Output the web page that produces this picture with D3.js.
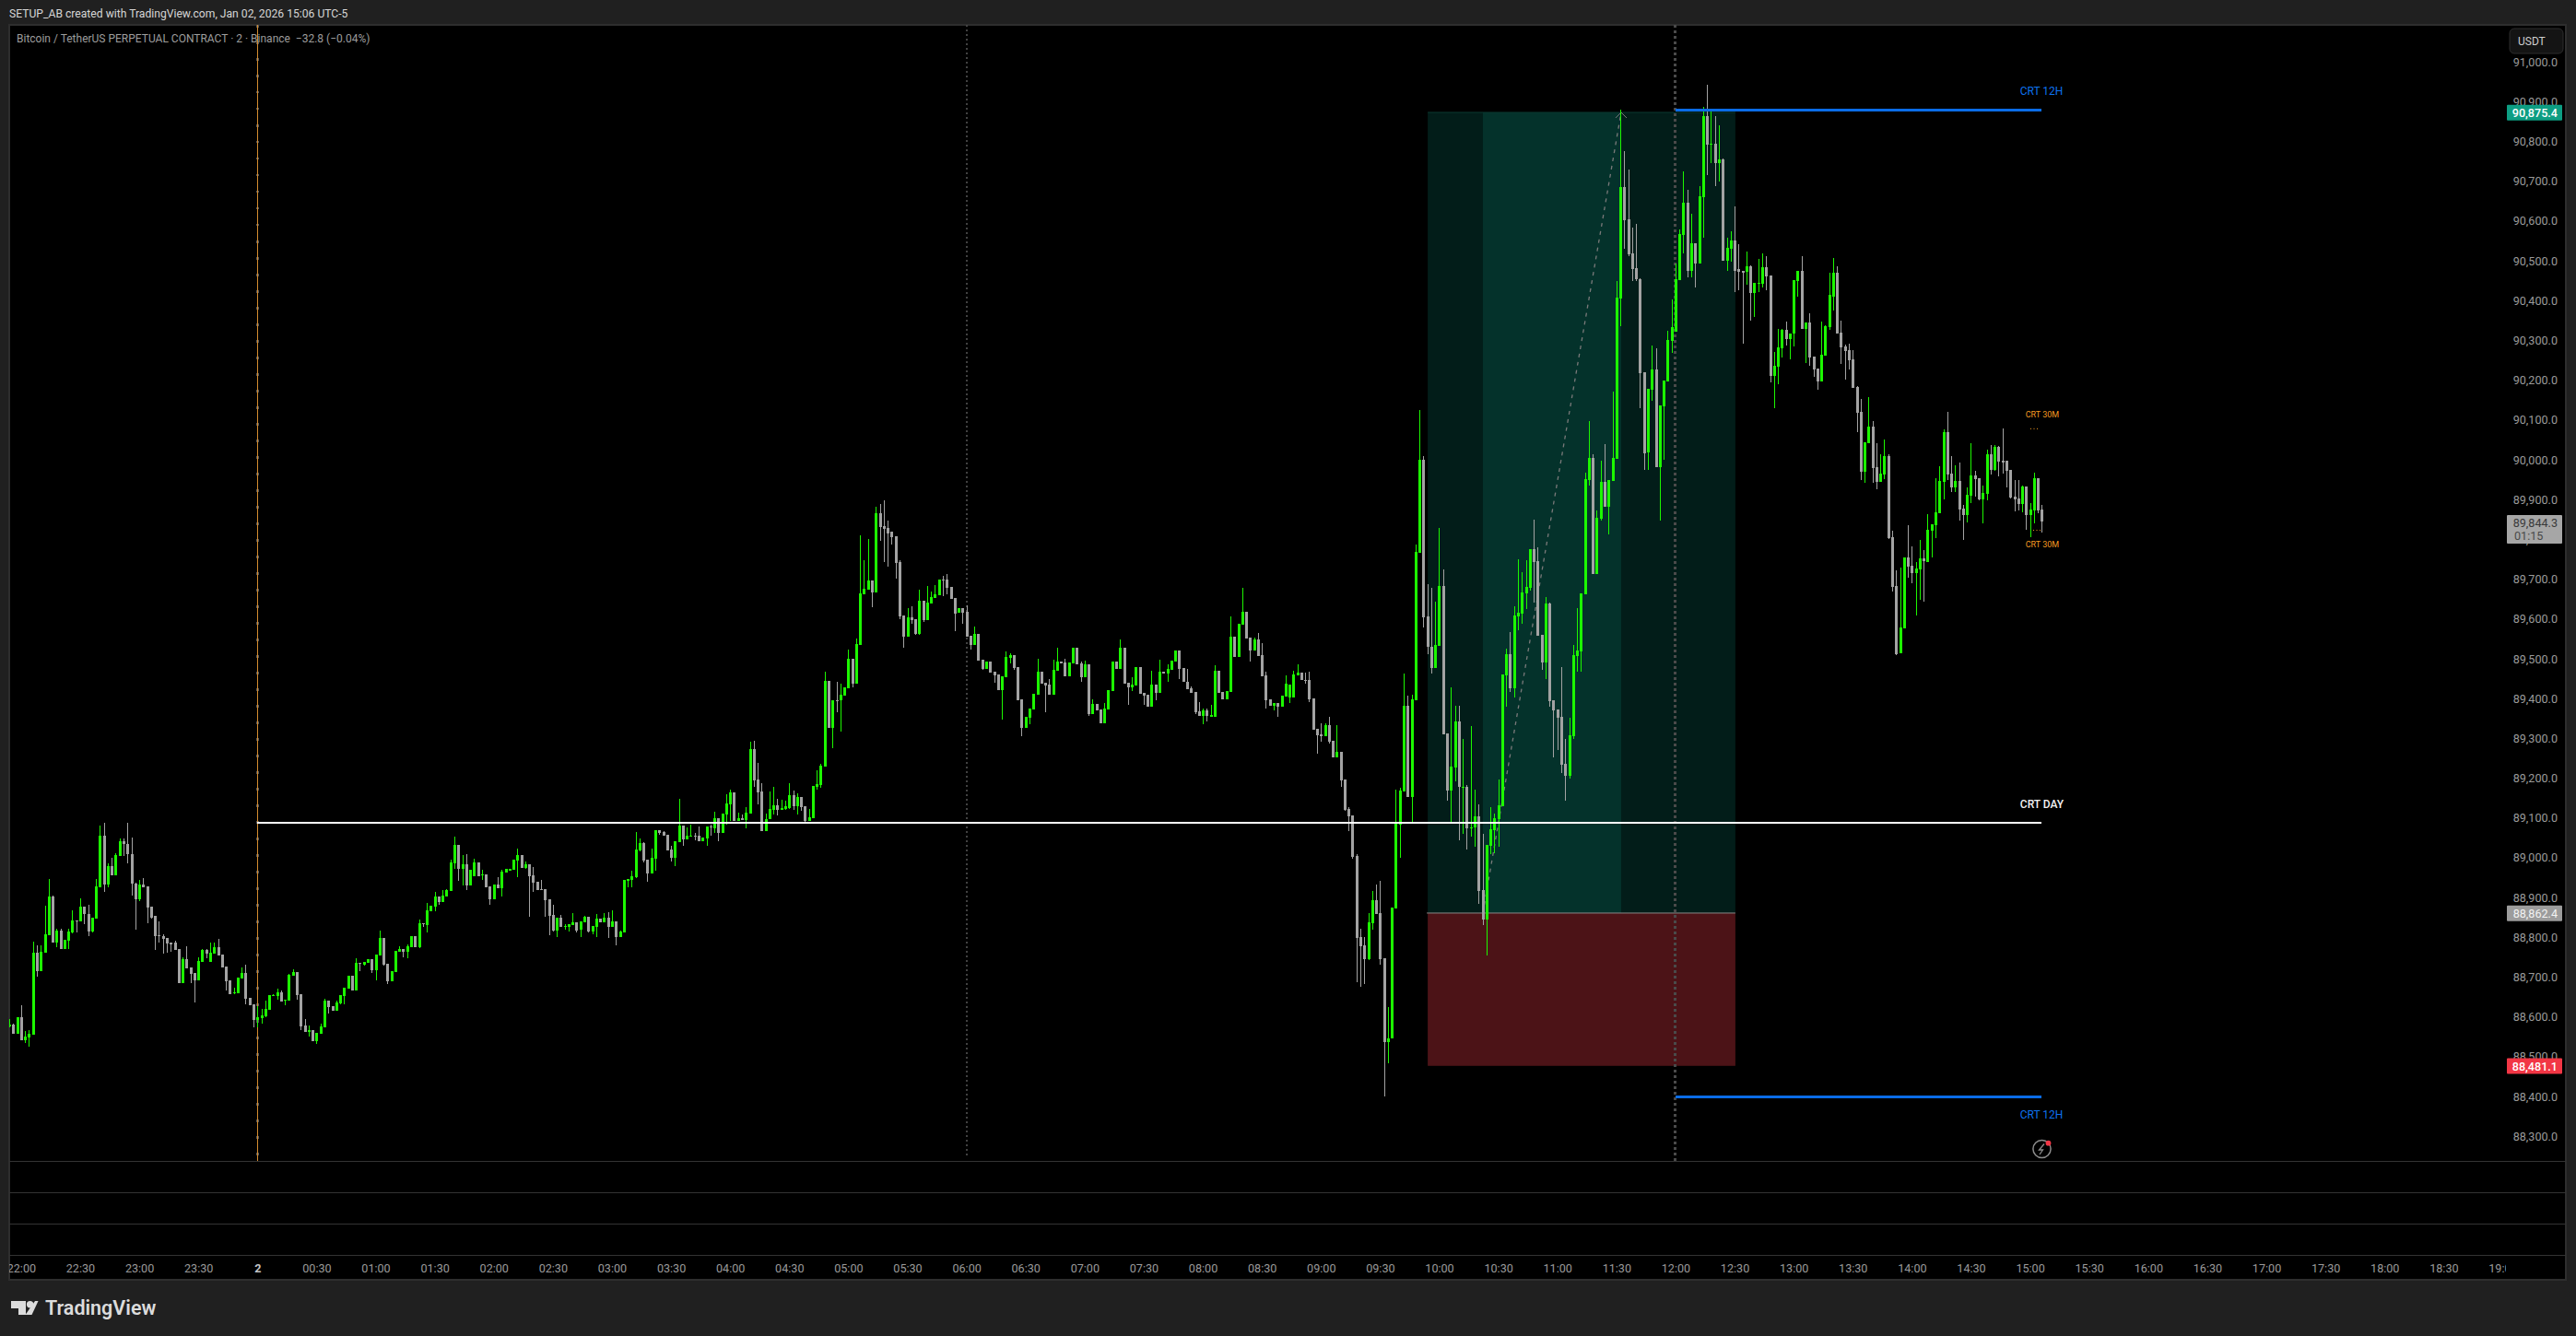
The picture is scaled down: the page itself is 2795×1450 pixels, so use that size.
<!DOCTYPE html>
<html><head><meta charset="utf-8"><title>BTCUSDT.P 2m</title>
<script src="https://cdnjs.cloudflare.com/ajax/libs/d3/7.9.0/d3.min.js"></script>
<style>html,body{margin:0;padding:0;background:#202020;overflow:hidden}svg{display:block}text{font-family:Roboto,"Liberation Sans",sans-serif}</style>
</head><body><svg id="c" width="2795" height="1450"></svg>
<script>
const firstBar = -63; // bars counted from midnight, two minutes each
const opens = [
88575,88580,88556,88598,88540,88547,88554,88760,88714,88760,
88804,88901,88786,88816,88770,88791,88811,88841,88839,88876,
88858,88814,88846,88925,89054,88932,88978,88955,89003,89040,
89033,89008,88934,88894,88932,88927,88876,88853,88804,88802,
88797,88785,88785,88770,88684,88744,88723,88709,88691,88737,
88767,88737,88758,88774,88756,88726,88691,88658,88658,88695,
88709,88647,88631,88591,88596,88600,88617,88652,88652,88661,
88640,88640,88702,88712,88656,88577,88561,88566,88538,88556,
88573,88640,88626,88614,88633,88651,88670,88702,88665,88735,
88730,88735,88744,88716,88753,88797,88733,88689,88712,88763,
88770,88763,88774,88802,88774,88834,88830,88865,88876,88901,
88888,88901,88915,88985,89031,88971,88983,88929,88952,88987,
88955,88957,88927,88895,88932,88922,88962,88966,88969,88992,
89006,88973,88982,88955,88938,88920,88920,88894,88855,88816,
88848,88825,88825,88830,88837,88818,88837,88851,88814,88825,
88846,88837,88848,88825,88839,88800,88811,88941,88943,88950,
89017,89036,88994,88959,88997,89068,89063,89057,89020,88999,
89038,89080,89045,89052,89054,89054,89040,89047,89077,89073,
89098,89061,89108,89133,89163,89091,89098,89094,89110,89272,
89195,89165,89066,89096,89119,89131,89119,89122,89124,89156,
89128,89152,89128,89091,89098,89177,89182,89229,89443,89325,
89395,89394,89406,89425,89499,89436,89534,89661,89673,89696,
89665,89865,89832,89827,89818,89807,89742,89608,89555,89603,
89598,89561,89645,89596,89638,89652,89659,89698,89698,89679,
89652,89615,89626,89617,89557,89534,89561,89496,89473,89492,
89466,89459,89420,89453,89501,89508,89478,89397,89325,89351,
89372,89409,89466,89438,89434,89409,89469,89492,89490,89455,
89487,89527,89487,89453,89485,89360,89385,89371,89337,89372,
89418,89492,89473,89527,89438,89427,89432,89478,89413,89408,
89378,89434,89413,89466,89462,89471,89492,89520,89476,89441,
89425,89415,89367,89355,89369,89353,89353,89469,89415,89397,
89415,89555,89504,89585,89617,89552,89520,89547,89508,89457,
89397,89381,89388,89378,89404,89402,89402,89458,89464,89446,
89446,89399,89323,89309,89304,89332,89293,89251,89265,89196,
89121,89105,89004,88800,88779,88744,88834,88892,88859,88746,
88535,88544,88871,89083,89166,89380,89152,89395,89766,89999,
89605,89530,89476,89531,89682,89312,89168,89226,89341,89175,
89177,89074,89075,89103,88917,88843,89029,89068,89096,89128,
89458,89510,89425,89605,89612,89664,89678,89774,89744,89559,
89490,89638,89395,89371,89352,89235,89205,89304,89506,89518,
89660,89948,90003,89712,89850,89944,89881,89946,90001,90404,
90684,90603,90518,90481,90453,90219,90017,90175,90226,89981,
90133,90196,90298,90321,90451,90564,90645,90474,90543,90492,
90659,90863,90791,90793,90745,90754,90499,90530,90550,90478,
90473,90471,90485,90418,90441,90441,90483,90462,90210,90233,
90279,90326,90302,90316,90448,90474,90328,90344,90258,90228,
90196,90261,90332,90409,90469,90319,90284,90275,90251,90182,
90119,89969,90041,90082,89981,89943,89962,90008,89805,89682,
89513,89575,89754,89733,89714,89723,89751,89742,89821,89835,
89865,89943,90068,89964,89930,89946,89876,89860,89909,89960,
89953,89899,89913,90013,89974,90031,89996,89996,89973,89906,
89902,89888,89932,89860,89872,89953,89874];
const highs = [
88594,88581,88598,88628,88563,88565,88788,88779,88779,88878,
88945,88904,88820,88821,88793,88821,88866,88841,88897,88876,
88881,88848,88945,89080,89087,88984,88998,89010,89047,89047,
89087,89050,88936,88943,88947,88927,88876,88853,88839,88807,
88797,88785,88790,88770,88748,88777,88723,88709,88748,88770,
88770,88785,88785,88795,88756,88726,88691,88672,88698,88723,
88730,88647,88631,88626,88619,88640,88654,88655,88670,88665,
88642,88707,88719,88712,88656,88594,88577,88566,88559,88583,
88645,88640,88626,88640,88654,88672,88702,88702,88746,88735,
88737,88744,88744,88756,88816,88797,88733,88714,88765,88777,
88770,88781,88802,88802,88844,88834,88885,88878,88913,88901,
88918,88920,88994,89052,89031,89006,89008,88969,88996,88987,
88969,88957,88927,88932,88950,88969,88971,88971,88994,89022,
89006,88990,88982,88976,88938,88943,88920,88894,88880,88848,
88855,88832,88832,88860,88837,88839,88853,88851,88827,88858,
88846,88860,88862,88866,88839,88816,88943,88946,88966,89064,
89047,89038,88994,89022,89068,89068,89066,89057,89029,89040,
89147,89080,89075,89082,89061,89077,89050,89077,89082,89115,
89098,89110,89158,89170,89163,89112,89108,89126,89291,89293,
89237,89186,89110,89165,89177,89147,89145,89142,89186,89168,
89161,89152,89128,89122,89179,89219,89235,89466,89443,89395,
89441,89436,89427,89522,89499,89549,89809,89746,89800,89696,
89881,89887,89897,89846,89818,89807,89747,89608,89626,89630,
89598,89673,89645,89682,89669,89684,89698,89707,89712,89679,
89652,89626,89626,89634,89557,89580,89561,89496,89492,89492,
89466,89459,89455,89517,89513,89508,89478,89397,89353,89374,
89411,89500,89466,89438,89449,89497,89527,89492,89499,89490,
89527,89527,89491,89495,89485,89396,89385,89371,89387,89420,
89492,89492,89547,89527,89438,89453,89478,89478,89413,89408,
89468,89434,89497,89466,89485,89494,89520,89520,89476,89473,
89429,89415,89390,89375,89375,89383,89483,89469,89415,89418,
89605,89555,89587,89677,89617,89552,89552,89564,89538,89466,
89397,89388,89388,89406,89457,89434,89468,89485,89464,89464,
89466,89399,89323,89336,89336,89352,89293,89332,89265,89196,
89126,89105,89009,88820,88800,88860,88915,88932,88941,88746,
88623,88873,89170,89174,89462,89407,89409,89787,90124,90008,
89686,89677,89643,89827,89724,89312,89426,89380,89380,89298,
89182,89331,89171,89133,89059,89031,89126,89109,89196,89460,
89524,89566,89631,89750,89717,89746,89774,89848,89779,89559,
89654,89641,89395,89371,89477,89297,89350,89533,89627,89664,
89967,90097,90013,89872,89997,90038,89948,90170,90448,90878,
90775,90728,90582,90592,90456,90219,90177,90286,90279,90136,
90198,90323,90402,90492,90578,90724,90677,90617,90543,90687,
90886,90941,90881,90863,90840,90756,90557,90573,90636,90541,
90473,90522,90487,90444,90504,90518,90511,90462,90270,90328,
90328,90346,90316,90450,90474,90511,90344,90367,90258,90228,
90346,90337,90469,90506,90485,90349,90288,90291,90275,90184,
90152,90043,90156,90096,90041,90013,90050,90012,89821,89721,
89728,89754,89835,89781,89742,89798,89772,89862,89837,89953,
89983,90075,90119,90008,89985,89992,89886,89930,90041,89971,
89953,89934,90024,90036,90036,90034,90078,89996,89973,89948,
89948,89934,89932,89890,89967,89953,89886];
const lows = [
88573,88556,88556,88541,88533,88523,88554,88700,88714,88760,
88804,88786,88775,88770,88770,88770,88809,88811,88839,88832,
88803,88811,88846,88925,88914,88924,88955,88955,89003,89003,
88986,88905,88818,88891,88925,88834,88845,88767,88785,88758,
88760,88763,88767,88684,88684,88721,88685,88635,88691,88737,
88746,88737,88758,88753,88723,88665,88656,88656,88658,88695,
88631,88628,88573,88573,88582,88598,88617,88652,88642,88638,
88629,88640,88702,88642,88565,88561,88550,88538,88532,88556,
88573,88607,88614,88614,88631,88631,88670,88665,88665,88714,
88727,88735,88709,88691,88753,88728,88682,88689,88712,88763,
88749,88746,88774,88774,88772,88825,88811,88865,88865,88881,
88888,88901,88915,88971,88941,88929,88918,88929,88952,88952,
88943,88925,88881,88895,88922,88901,88962,88966,88969,88951,
88973,88971,88851,88913,88918,88918,88851,88804,88814,88800,
88825,88818,88813,88830,88811,88800,88837,88811,88807,88800,
88837,88837,88797,88825,88779,88800,88811,88925,88925,88948,
89015,88987,88939,88959,88966,89057,89054,89017,88990,88978,
89038,89029,89045,89052,89043,89040,89040,89029,89054,89061,
89040,89061,89082,89091,89091,89091,89094,89073,89110,89177,
89133,89066,89066,89096,89108,89105,89119,89119,89122,89119,
89108,89117,89084,89091,89098,89170,89175,89229,89325,89274,
89364,89317,89406,89425,89427,89436,89534,89661,89673,89629,
89665,89796,89742,89730,89787,89701,89599,89527,89555,89588,
89560,89560,89591,89596,89638,89652,89659,89657,89661,89649,
89568,89615,89588,89555,89522,89534,89494,89472,89473,89464,
89439,89420,89347,89453,89487,89472,89395,89305,89325,89335,
89372,89409,89436,89365,89409,89409,89469,89487,89455,89455,
89487,89485,89441,89453,89356,89360,89369,89337,89337,89372,
89418,89473,89473,89436,89383,89418,89432,89411,89383,89378,
89378,89395,89413,89462,89441,89471,89492,89447,89441,89422,
89413,89360,89355,89334,89341,89353,89353,89413,89397,89397,
89415,89504,89504,89585,89550,89492,89520,89506,89455,89374,
89381,89369,89354,89378,89404,89388,89402,89458,89446,89436,
89390,89321,89261,89290,89304,89285,89251,89251,89177,89116,
89066,88997,88687,88675,88682,88742,88818,88857,88730,88399,
88482,88544,88871,88999,89166,89152,89088,89395,89766,89577,
89510,89462,89476,89531,89310,89142,89088,89191,89043,89059,
89020,89052,89026,88883,88830,88754,89008,89010,89027,89128,
89378,89416,89402,89570,89586,89624,89671,89640,89556,89471,
89448,89378,89251,89270,89212,89142,89197,89297,89467,89467,
89660,89934,89712,89712,89847,89881,89812,89946,90001,90335,
90529,90511,90448,90448,90129,89974,89974,90147,89981,89846,
89999,90196,90268,90321,90451,90518,90457,90457,90432,90492,
90557,90714,90745,90687,90698,90499,90474,90497,90420,90425,
90291,90439,90349,90358,90420,90432,90425,90194,90129,90189,
90256,90286,90251,90284,90409,90328,90242,90235,90207,90175,
90196,90261,90325,90374,90316,90240,90200,90226,90180,90069,
89948,89941,90041,89941,89925,89943,89950,89800,89668,89508,
89513,89575,89703,89689,89608,89647,89642,89742,89754,89802,
89865,89899,89948,89918,89918,89846,89798,89842,89890,89906,
89897,89839,89897,89962,89971,89957,89964,89930,89902,89869,
89872,89867,89823,89804,89839,89865,89816];
const closes = [
88580,88556,88598,88541,88550,88556,88760,88714,88763,88807,
88901,88786,88816,88770,88793,88813,88841,88839,88876,88858,
88814,88848,88927,89054,88932,88978,88955,89006,89040,89033,
89008,88934,88894,88932,88925,88874,88848,88802,88802,88795,
88783,88784,88767,88684,88744,88721,88707,88691,88739,88767,
88758,88760,88774,88753,88723,88689,88656,88661,88698,88709,
88644,88628,88591,88598,88603,88619,88654,88654,88661,88638,
88642,88705,88712,88654,88575,88561,88566,88538,88559,88575,
88640,88624,88614,88635,88654,88672,88702,88665,88735,88733,
88737,88744,88716,88756,88797,88730,88689,88714,88765,88770,
88763,88777,88802,88774,88834,88832,88867,88878,88901,88888,
88904,88918,88987,89031,88971,88983,88929,88969,88987,88952,
88957,88925,88895,88932,88922,88964,88971,88971,88994,89006,
88973,88982,88952,88936,88918,88918,88892,88853,88816,88848,
88825,88827,88832,88837,88816,88839,88851,88814,88827,88846,
88837,88848,88825,88839,88800,88814,88943,88945,88952,89020,
89036,88992,88959,88999,89068,89061,89054,89017,88999,89040,
89080,89045,89054,89054,89053,89040,89050,89077,89075,89098,
89061,89110,89135,89163,89091,89098,89094,89112,89272,89193,
89163,89066,89096,89122,89131,89119,89124,89128,89156,89128,
89152,89126,89091,89101,89179,89184,89230,89443,89325,89395,
89394,89408,89427,89499,89436,89536,89663,89675,89696,89665,
89865,89830,89825,89813,89804,89740,89605,89555,89603,89596,
89561,89645,89596,89640,89654,89661,89698,89696,89677,89649,
89612,89626,89615,89555,89534,89561,89494,89473,89492,89464,
89457,89420,89455,89503,89508,89476,89395,89325,89353,89374,
89411,89466,89436,89432,89409,89471,89492,89487,89455,89490,
89527,89485,89453,89485,89360,89385,89369,89337,89374,89420,
89492,89473,89527,89436,89427,89434,89478,89411,89406,89378,
89434,89413,89466,89462,89473,89494,89520,89473,89441,89422,
89413,89365,89355,89369,89355,89358,89469,89413,89397,89418,
89555,89504,89587,89617,89550,89520,89547,89506,89455,89395,
89381,89388,89378,89406,89436,89434,89460,89464,89446,89445,
89397,89321,89307,89304,89332,89290,89251,89265,89194,89119,
89103,89001,88797,88777,88744,88836,88892,88857,88744,88535,
88545,88873,89086,89168,89380,89152,89397,89767,89999,89603,
89528,89476,89533,89682,89310,89168,89228,89341,89176,89177,
89073,89076,89103,88915,88843,89031,89070,89098,89130,89460,
89510,89425,89607,89614,89666,89680,89774,89742,89556,89490,
89638,89393,89369,89350,89233,89205,89306,89508,89520,89664,
89950,90003,89712,89854,89944,89881,89948,90003,90407,90684,
90601,90515,90478,90453,90217,90015,90177,90226,89981,90136,
90198,90300,90332,90453,90566,90645,90474,90543,90492,90661,
90863,90791,90793,90745,90754,90499,90532,90550,90474,90471,
90471,90485,90418,90444,90444,90483,90460,90210,90235,90281,
90326,90302,90316,90450,90474,90328,90344,90256,90226,90196,
90263,90335,90413,90469,90316,90281,90272,90249,90180,90117,
89969,90043,90082,89978,89943,89964,90008,89802,89680,89510,
89578,89754,89730,89714,89726,89751,89744,89823,89837,89867,
89946,90068,89962,89930,89946,89874,89860,89911,89960,89950,
89899,89916,90013,89974,90031,89994,89994,89971,89904,89899,
89888,89932,89860,89874,89953,89872,89844];

const priceTicks = [91000,90900,90800,90700,90600,90500,90400,90300,90200,90100,90000,89900,89800,89700,89600,89500,89400,89300,89200,89100,89000,88900,88800,88700,88600,88500,88400,88300];
const timeLabels = ["22:00","22:30","23:00","23:30","2","00:30","01:00","01:30","02:00","02:30","03:00","03:30","04:00","04:30","05:00","05:30","06:00","06:30","07:00","07:30","08:00","08:30","09:00","09:30","10:00","10:30","11:00","11:30","12:00","12:30","13:00","13:30","14:00","14:30","15:00","15:30","16:00","16:30","17:00","17:30","18:00","18:30","19:00"];
const firstTimeBar = -60, barsPerLabel = 15;
const sessionBars = [0, 180, 360];
const crtDayPrice = 89087, crtDayBars = [0, 453];
const crt12hPrices = [90878, 88398], crt12hBars = [360, 453];
const crt30mPrices = [90077, 89822];
const positionBars = [297.1, 311.1, 346.2, 375.2];
const positionPrices = [90872, 88860, 88476];
const lastPrices = ["90,875.4","88,862.4","88,481.1","89,844.3"];

const GREEN="#1cf700", GRAY="#a3a3a3";
const svg=d3.select("#c");
const x=d3.scaleLinear().domain([0,450]).range([279.3,2202.6]);
const y=d3.scaleLinear().domain([91000,88300]).range([66.7,1232.8]);
const defs=svg.append("defs");
defs.append("clipPath").attr("id","pane").append("rect").attr("x",10).attr("y",27).attr("width",2709).attr("height",1233);
defs.append("clipPath").attr("id","timeclip").append("rect").attr("x",10).attr("y",1362).attr("width",2709).attr("height",27);

svg.append("rect").attr("width",2795).attr("height",1450).attr("fill","#202020");
svg.append("rect").attr("x",10).attr("y",27).attr("width",2774).attr("height",1362).attr("fill","#000").attr("stroke","#2e2e2e").attr("stroke-width",2);

svg.append("text").attr("x",10).attr("y",18.5).attr("fill","#d6d6d6").attr("font-size",12.15).text("SETUP_AB created with TradingView.com, Jan 02, 2026 15:06 UTC-5");

// panes
[1260,1294,1328,1362].forEach(v=>svg.append("rect").attr("x",10).attr("y",v).attr("width",2774).attr("height",1).attr("fill","#333"));

const pane=svg.append("g").attr("clip-path","url(#pane)");
// long position
const bx=positionBars.map(x), py=positionPrices.map(y);
pane.append("rect").attr("x",bx[0]).attr("y",py[0]).attr("width",bx[3]-bx[0]).attr("height",py[1]-py[0]).attr("fill","#021d19");
pane.append("rect").attr("x",bx[1]).attr("y",py[0]).attr("width",bx[2]-bx[1]).attr("height",py[1]-py[0]).attr("fill","#04322b");
pane.append("rect").attr("x",bx[0]).attr("y",py[1]).attr("width",bx[3]-bx[0]).attr("height",py[2]-py[1]).attr("fill","#4c1317");
pane.append("line").attr("x1",bx[0]-1).attr("x2",bx[3]).attr("y1",py[1]).attr("y2",py[1]).attr("stroke","#8a8a8a").attr("stroke-width",1);
pane.append("line").attr("x1",bx[0]).attr("x2",bx[3]).attr("y1",py[0]).attr("y2",py[0]).attr("stroke","#0b3a31").attr("stroke-width",1);
// session lines
pane.append("line").attr("x1",x(sessionBars[1])).attr("x2",x(sessionBars[1])).attr("y1",27).attr("y2",1255).attr("stroke","#424242").attr("stroke-width",2).attr("stroke-dasharray","2 3").attr("shape-rendering","crispEdges");
pane.append("line").attr("x1",x(sessionBars[2])).attr("x2",x(sessionBars[2])).attr("y1",27).attr("y2",1260).attr("stroke","#4a4a4a").attr("stroke-width",3).attr("stroke-dasharray","3 3").attr("shape-rendering","crispEdges");
pane.append("line").attr("x1",x(sessionBars[0])).attr("x2",x(sessionBars[0])).attr("y1",27).attr("y2",1260).attr("stroke","#555").attr("stroke-width",3).attr("stroke-dasharray","2.5 15.5").attr("shape-rendering","crispEdges");
pane.append("line").attr("x1",279.5).attr("x2",279.5).attr("y1",27).attr("y2",1260).attr("stroke","#d48c30").attr("stroke-width",1);
// dashed trade path
pane.append("line").attr("x1",bx[1]).attr("x2",bx[2]).attr("y1",py[1]).attr("y2",py[0]).attr("stroke","#7a7a7a").attr("stroke-width",1.3).attr("stroke-dasharray","4 5");
pane.append("path").attr("d",`M${bx[2]-6},${py[0]+6}L${bx[2]},${py[0]}L${bx[2]+6},${py[0]+6}`).attr("fill","none").attr("stroke","#7a7a7a").attr("stroke-width",1);

// candles
const barIdx=d3.range(opens.length);
const cg=pane.append("g").attr("shape-rendering","crispEdges");
barIdx.forEach(k=>{
  const i=k+firstBar, up=closes[k]>=opens[k], col=up?GREEN:GRAY, cx=Math.round(x(i));
  cg.append("rect").attr("x",cx).attr("width",1).attr("y",y(highs[k])).attr("height",Math.max(1,y(lows[k])-y(highs[k]))).attr("fill",col);
  const top=y(Math.max(opens[k],closes[k])), bot=y(Math.min(opens[k],closes[k]));
  cg.append("rect").attr("x",cx-1).attr("width",3).attr("y",top).attr("height",Math.max(1.2,bot-top)).attr("fill",col);
});

// level lines
pane.append("line").attr("x1",x(crtDayBars[0])).attr("x2",x(crtDayBars[1])).attr("y1",y(crtDayPrice)).attr("y2",y(crtDayPrice)).attr("stroke","#fff").attr("stroke-width",2).attr("shape-rendering","crispEdges");
crt12hPrices.forEach(p=>pane.append("line").attr("x1",x(crt12hBars[0])).attr("x2",x(crt12hBars[1])).attr("y1",y(p)).attr("y2",y(p)).attr("stroke","#0a6ce6").attr("stroke-width",3).attr("shape-rendering","crispEdges"));
pane.append("line").attr("x1",2203).attr("x2",2213).attr("y1",y(crt30mPrices[0])).attr("y2",y(crt30mPrices[0])).attr("stroke","#f59a23").attr("stroke-width",1).attr("stroke-dasharray","1 2.5");
pane.append("line").attr("x1",2206).attr("x2",2214).attr("y1",y(crt30mPrices[1])).attr("y2",y(crt30mPrices[1])).attr("stroke","#f59a23").attr("stroke-width",1).attr("stroke-dasharray","1 2.5");

const lbl=(t,xp,yp,c,fs,w)=>svg.append("text").attr("x",xp).attr("y",yp).attr("fill",c).attr("font-size",fs).attr("font-weight",w||400).attr("text-anchor","middle").attr("dominant-baseline","central").text(t);
lbl("CRT 12H",2215,98.5,"#0d72f0",12);
lbl("CRT 12H",2215,1209.5,"#0d72f0",12);
lbl("CRT DAY",2215.5,872.5,"#f2f2f2",12,500);
lbl("CRT 30M",2216,449.5,"#f59a23",9);
lbl("CRT 30M",2216,590.5,"#f59a23",9);

svg.append("text").attr("x",18).attr("y",46).attr("fill","#9d9d9d").attr("font-size",12).attr("xml:space","preserve").text("Bitcoin / TetherUS PERPETUAL CONTRACT · 2 · Binance  −32.8 (−0.04%)");

// price axis
const pa=svg.append("g").attr("transform","translate(2775,0)").call(d3.axisRight(y).tickValues(priceTicks).tickFormat(d3.format(",.1f")).tickSize(0));
pa.select(".domain").remove();
pa.selectAll("text").attr("x",0).attr("dy",null).attr("dominant-baseline","central").attr("text-anchor","end").attr("fill","#9a9a9a").attr("font-size",12.6).style("font-family","Roboto");

// time axis
const tickBars=timeLabels.map((d,k)=>firstTimeBar+k*barsPerLabel);
const ta=svg.append("g").attr("clip-path","url(#timeclip)").append("g").attr("transform","translate(0,1362)").call(d3.axisBottom(x).tickValues(tickBars).tickFormat((d,k)=>timeLabels[k]).tickSize(0));
ta.select(".domain").remove();
ta.selectAll("text").attr("y",14).attr("dy",null).attr("dominant-baseline","central").attr("font-size",12.6).style("font-family","Roboto")
  .attr("font-weight",(d,k)=>timeLabels[k]==="2"?700:400).attr("fill",(d,k)=>timeLabels[k]==="2"?"#c4c4c4":"#9a9a9a");

// USDT button
svg.append("rect").attr("x",2723).attr("y",31).attr("width",58).attr("height",27).attr("rx",5).attr("fill","#141414").attr("stroke","#2c2c2c");
svg.append("text").attr("x",2732).attr("y",45).attr("dominant-baseline","central").attr("fill","#cfcfcf").attr("font-size",12).text("USDT");

// price tags
const tag=(t,p,bg,fg,w)=>{const c=y(p)+0.3;svg.append("rect").attr("x",2720).attr("y",c-8.5).attr("width",60).attr("height",17).attr("rx",1).attr("fill",bg);
 svg.append("text").attr("x",2775).attr("y",c).attr("dominant-baseline","central").attr("text-anchor","end").attr("fill",fg).attr("font-size",12.6).attr("font-weight",w||400).text(t);};
tag(lastPrices[0],positionPrices[0],"#0d9e83","#ffffff",500);
tag(lastPrices[1],positionPrices[1],"#9c9c9c","#f2f2f2",400);
tag(lastPrices[2],positionPrices[2],"#f23645","#ffffff",500);
svg.append("rect").attr("x",2720).attr("y",559).attr("width",60).attr("height",31).attr("rx",1).attr("fill","#a6a6a6");
svg.append("text").attr("x",2775).attr("y",567).attr("dominant-baseline","central").attr("text-anchor","end").attr("fill","#3a3a3a").attr("font-size",12.6).text(lastPrices[3]);
svg.append("text").attr("x",2728).attr("y",581).attr("dominant-baseline","central").attr("fill","#4a4a4a").attr("font-size",12.6).text("01:15");

// bolt icon
const ic=svg.append("g").attr("transform","translate(2215.5,1247)");
ic.append("circle").attr("r",9.6).attr("fill","none").attr("stroke","#8c8c8c").attr("stroke-width",1.5);
ic.append("path").attr("d","M2.5,-5.5L-3,1H1L-2.5,6").attr("fill","none").attr("stroke","#8c8c8c").attr("stroke-width",1.3);
ic.append("circle").attr("cx",7).attr("cy",-6.3).attr("r",2.9).attr("fill","#f23645");

// logo
const lg=svg.append("g").attr("fill","#dcdcdc");
lg.append("path").attr("d","M12,1412H28V1427H20V1420H12Z");
lg.append("circle").attr("cx",32.6).attr("cy",1415.8).attr("r",3.7);
lg.append("path").attr("d","M38,1412H41.5L34.5,1427H27.5Z");
lg.append("text").attr("x",49).attr("y",1427).attr("font-size",21.5).attr("font-weight",600).attr("fill","#dcdcdc").text("TradingView");
</script></body></html>
